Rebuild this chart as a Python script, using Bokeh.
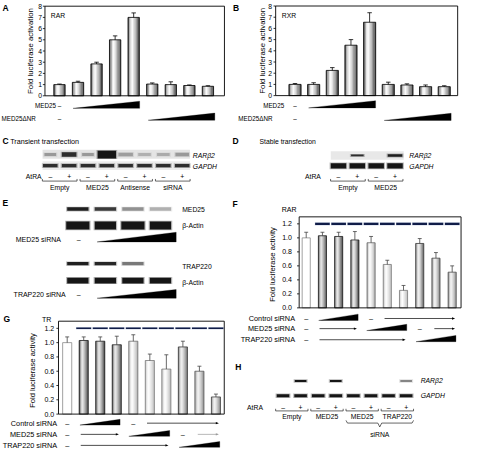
import numpy as np
from bokeh.plotting import figure
from bokeh.models import Range1d
from bokeh.embed import file_html
from bokeh.resources import INLINE
from bokeh.core.properties import value

FONT = "Liberation Sans"

# ---------------- data ----------------
A_values = [1.00, 1.20, 2.85, 5.00, 7.00, 1.05, 1.00, 0.92, 0.85]
A_errors = [0.05, 0.10, 0.15, 0.35, 0.40, 0.10, 0.25, 0.05, 0.05]
B_values = [1.00, 1.00, 2.25, 4.50, 6.55, 1.00, 0.95, 0.80, 0.80]
B_errors = [0.08, 0.15, 0.25, 0.50, 0.85, 0.20, 0.10, 0.15, 0.08]
AB_ticks = [0, 1, 2, 3, 4, 5, 6, 7, 8]
AB_ticklabels = ["0", "1", "2", "3", "4", "5", "6", "7", "8"]

F_values = [1.00, 1.03, 1.02, 0.97, 0.93, 0.62, 0.25, 0.92, 0.71, 0.51]
F_errors = [0.08, 0.05, 0.06, 0.12, 0.09, 0.06, 0.07, 0.07, 0.08, 0.09]
G_values = [1.00, 1.03, 1.02, 0.97, 1.02, 0.75, 0.63, 0.94, 0.60, 0.24]
G_errors = [0.08, 0.05, 0.06, 0.12, 0.09, 0.09, 0.20, 0.08, 0.07, 0.04]
FG_ticks = [0.0, 0.2, 0.4, 0.6, 0.8, 1.0, 1.2]
FG_ticklabels = ["0.0", "0.2", "0.4", "0.6", "0.8", "1.0", "1.2"]
FG_blot_level = 1.2
FG_blot_lanes = [1, 2, 3, 4, 5, 6, 7, 8, 9]

C_groups = ["Empty", "MED25", "Antisense", "siRNA"]
C_rar = [0.30, 0.85, 0.30, 1.00, 0.28, 0.20, 0.22, 0.30]
C_gapdh = [0.85, 0.85, 0.85, 0.85, 0.85, 0.85, 0.85, 0.85]
D_groups = ["Empty", "MED25"]
D_rar = [0.0, 0.85, 0.0, 0.95]
D_gapdh = [1.0, 1.0, 1.0, 1.0]
E_med25 = [0.95, 0.80, 0.40, 0.28]
E_actin1 = [1.0, 1.0, 1.0, 1.0]
E_trap220 = [0.95, 0.90, 0.50, 0.0]
E_actin2 = [1.0, 1.0, 1.0, 1.0]
H_groups = ["Empty", "MED25", "MED25", "TRAP220"]
H_rar = [0.0, 1.0, 0.0, 1.0, 0.0, 0.0, 0.0, 0.45]
H_gapdh = [1.0, 1.0, 1.0, 1.0, 1.0, 1.0, 1.0, 1.0]
AtRA_signs = ["–", "+"]

# ---------------- canvas ----------------
W, H = 478, 466
p = figure(width=462, height=450, x_range=Range1d(0, W), y_range=Range1d(H, 0),
           output_backend="svg", toolbar_location=None, min_border=0,
           x_axis_location=None, y_axis_location=None)
p.xgrid.visible = False
p.ygrid.visible = False
p.outline_line_color = None
p.background_fill_color = "white"
p.border_fill_color = "white"

panels = {
    "A": dict(x0=61.0, dx=19.2, y0=98.7, k=11.6),
    "B": dict(x0=304.7, dx=19.3, y0=98.5, k=11.6),
    "F": dict(x0=316.3, dx=16.78, y0=318.3, k=72.5),
    "G": dict(x0=69.0, dx=17.1, y0=428.3, k=74.0),
}
ex, ey = {}, {}
for n, g in panels.items():
    ex[n] = Range1d((0 - g["x0"]) / g["dx"], (W - g["x0"]) / g["dx"])
    ey[n] = Range1d((g["y0"] - H) / g["k"], g["y0"] / g["k"])
p.extra_x_ranges = ex
p.extra_y_ranges = ey


def txt(x, y, s, size="6.6px", align="left", baseline="middle", style="normal",
        color="black", angle=0.0, xr="default", yr="default"):
    p.text(x=[x], y=[y], text=[s], text_font=value(FONT), text_font_size=size,
           text_align=align, text_baseline=baseline, text_font_style=style,
           text_color=color, angle=angle, x_range_name=xr, y_range_name=yr)


def _rgb(h):
    h = h.lstrip("#")
    return [int(h[i:i + 2], 16) for i in (0, 2, 4)]


def _mix(c1, c2, t):
    a, b = _rgb(c1), _rgb(c2)
    return "#%02x%02x%02x" % tuple(int(round(a[k] + (b[k] - a[k]) * t)) for k in range(3))


def bar_chart(name, vals, errs, edges, centers, outlines, bw, frame_lr, ymax,
              ticks, ticklabels, tick_x, err_color, tsize, ns=9, hl=-0.3):
    xs, tops, cols = [], [], []
    for i, v in enumerate(vals):
        for j in range(ns):
            t = -1 + (2 * j + 1) / ns
            d = (t - hl) / (1 - hl) if t >= hl else (hl - t) / (1 + hl)
            cols.append(_mix(centers[i], edges[i], min(1.0, d) ** 1.3))
            xs.append(i - bw / 2 + (j + 0.5) * bw / ns)
            tops.append(v)
    p.vbar(x=xs, width=bw / ns * 1.1, top=tops, bottom=0, fill_color=cols,
           line_color=None, x_range_name=name, y_range_name=name)
    idx = list(range(len(vals)))
    p.vbar(x=idx, width=bw, top=vals, bottom=0, fill_color=None,
           line_color=outlines, line_width=0.8, x_range_name=name, y_range_name=name)
    hi = [v + e for v, e in zip(vals, errs)]
    p.segment(x0=idx, y0=vals, x1=idx, y1=hi, line_color=err_color, line_width=0.8,
              x_range_name=name, y_range_name=name)
    p.segment(x0=[i - 0.12 for i in idx], x1=[i + 0.12 for i in idx], y0=hi, y1=hi,
              line_color=err_color, line_width=0.8, x_range_name=name, y_range_name=name)
    L, R = frame_lr
    p.quad(left=[L], right=[R], bottom=[0], top=[ymax], fill_color=None,
           line_color="black", line_width=0.9, y_range_name=name)
    p.segment(x0=[L - 2.2] * len(ticks), x1=[L] * len(ticks), y0=ticks, y1=ticks,
              line_color="black", line_width=0.8, y_range_name=name)
    p.text(x=[tick_x] * len(ticks), y=ticks, text=ticklabels, text_font=value(FONT),
           text_font_size=tsize, text_align="right", text_baseline="middle",
           y_range_name=name)


def dash(name, i, y, size):
    txt(i, y, "–", size=size, align="center", xr=name)


def wedge(name, i0, i1, yb, h, color="black"):
    p.patch(x=[i0, i1, i1], y=[yb, yb, yb - h], fill_color=color, line_color=color,
            line_width=0.3, x_range_name=name)


def arrow(name, i0, i1, y, color="black"):
    L = 3.2 / panels[name]["dx"]
    p.segment(x0=[i0], x1=[i1 - L * 0.5], y0=[y], y1=[y], line_color=color,
              line_width=0.7, x_range_name=name)
    p.patch(x=[i1, i1 - L, i1 - L], y=[y, y - 1.2, y + 1.2], fill_color=color,
            line_color=None, x_range_name=name)


def bands(xs, y, w, h, intens, color="#161616"):
    n = len(xs)
    ws = w if isinstance(w, list) else [w] * n
    hs = h if isinstance(h, list) else [h] * n
    keep = [i for i in range(n) if intens[i] > 0]
    if not keep:
        return
    p.quad(left=[xs[i] - ws[i] / 2 - 1.2 for i in keep],
           right=[xs[i] + ws[i] / 2 + 1.2 for i in keep],
           top=[y - hs[i] / 2 - 0.7 for i in keep],
           bottom=[y + hs[i] / 2 + 0.7 for i in keep],
           fill_color=color, fill_alpha=[0.3 * intens[i] for i in keep], line_color=None)
    p.quad(left=[xs[i] - ws[i] / 2 for i in keep],
           right=[xs[i] + ws[i] / 2 for i in keep],
           top=[y - hs[i] / 2 for i in keep],
           bottom=[y + hs[i] / 2 for i in keep],
           fill_color=color, fill_alpha=[intens[i] for i in keep], line_color=None)


def atra_row(label_right, y, lanes, dx, groups, y_br, y_grp, size="6.8px"):
    txt(label_right, y, "AtRA", size=size, align="right")
    for i, x in enumerate(lanes):
        txt(x, y, AtRA_signs[i % 2], size=size, align="center")
    for g, name in enumerate(groups):
        xl = lanes[2 * g] - 0.42 * dx
        xr = lanes[2 * g + 1] + 0.42 * dx
        p.line(x=[xl, xl, xr, xr], y=[y_br - 2.2, y_br, y_br, y_br - 2.2],
               line_color="black", line_width=0.6)
        txt((lanes[2 * g] + lanes[2 * g + 1]) / 2, y_grp, name, size=size, align="center")


def lanes_of(x0, dx, n):
    return [x0 + dx * i for i in range(n)]


# ---------------- panel letters & titles ----------------
for (lx, ly, s) in [(2, 7.5, "A"), (240.5, 7.5, "B"), (2, 145.5, "C"), (240, 145.5, "D"),
                    (2, 209.5, "E"), (240, 210.5, "F"), (3, 329.5, "G"), (243, 379.5, "H")]:
    txt(lx, ly, s, size="8.5px", style="bold")

# ---------------- A & B ----------------
AB_edge = ["#3a3a3a"] * 9
AB_center = ["#ffffff"] * 9
AB_out = ["#000000"] * 9
bar_chart("A", A_values, A_errors, AB_edge, AB_center, AB_out, 0.61, (46.0, 231.7), 8,
          AB_ticks, AB_ticklabels, 43.0, "black", "6.8px")
bar_chart("B", B_values, B_errors, AB_edge, AB_center, AB_out, 0.65, (284.7, 473.0), 8,
          AB_ticks, AB_ticklabels, 281.0, "black", "6.8px")
txt(52, 16, "RAR", size="6.8px")
txt(291, 15.5, "RXR", size="6.8px")
txt(30.7, 4, "Fold luciferase activation", size="7.8px", align="center", angle=np.pi / 2, yr="A")
txt(270.7, 4, "Fold luciferase activation", size="7.8px", align="center", angle=np.pi / 2, yr="B")

AB_rows = ["MED25", "MED25ΔNR"]
AB_wedges = [(0.73, 4.32), (4.78, 8.37)]
for name, lab_x, row_y, wb in [("A", [57.5, 36.5], [108.3, 121.7], [111.7, 124.0]),
                               ("B", [293.5, 281.5], [109.0, 122.3], [111.2, 124.2])]:
    for r in range(2):
        txt(lab_x[r], row_y[r], AB_rows[r], size="6.3px", align="right")
        dash(name, 0, row_y[r], "6.3px")
        wedge(name, AB_wedges[r][0], AB_wedges[r][1], wb[r], 7.4)

# ---------------- F & G ----------------
F_edge = ["#ffffff", "#303030", "#303030", "#3a3a3a", "#a0a0a0", "#b0b0b0", "#b0b0b0",
          "#5a5a5a", "#747474", "#7c7c7c"]
F_center = ["#ffffff", "#e8e8e8", "#e8e8e8", "#e8e8e8", "#ffffff", "#ffffff", "#ffffff",
            "#f0f0f0", "#f4f4f4", "#f4f4f4"]
F_out = ["#8a8a8a", "#202020", "#202020", "#252525", "#6a6a6a", "#7a7a7a", "#7a7a7a",
         "#3a3a3a", "#4a4a4a", "#505050"]
G_edge = ["#ffffff", "#303030", "#303030", "#3a3a3a", "#a8a8a8", "#b4b4b4", "#b4b4b4",
          "#585858", "#909090", "#6a6a6a"]
G_center = F_center
G_out = ["#8a8a8a", "#202020", "#202020", "#252525", "#707070", "#7a7a7a", "#7a7a7a",
         "#383838", "#5a5a5a", "#454545"]
bar_chart("F", F_values, F_errors, F_edge, F_center, F_out, 0.5, (309.0, 476.5), 1.3,
          FG_ticks, FG_ticklabels, 301.5, "#444444", "7.0px")
bar_chart("G", G_values, G_errors, G_edge, G_center, G_out, 0.55, (60.0, 231.5), 1.3,
          FG_ticks, FG_ticklabels, 55.5, "#444444", "7.0px")
txt(291, 216.7, "RAR", size="7.0px")
txt(43, 330.5, "TR", size="7.0px")
txt(281.3, 0.62, "Fold luciferase activity", size="7.6px", align="center", angle=np.pi / 2, yr="F")
txt(33.3, 0.61, "Fold luciferase activity", size="7.6px", align="center", angle=np.pi / 2, yr="G")

for name, hh in [("F", 2.2), ("G", 1.6)]:
    k = panels[name]["k"]
    p.quad(left=[i - 0.47 for i in FG_blot_lanes], right=[i + 0.47 for i in FG_blot_lanes],
           bottom=[FG_blot_level - (hh + 1.0) / 2 / k] * 9, top=[FG_blot_level + (hh + 1.0) / 2 / k] * 9,
           fill_color="#3c5ca0", fill_alpha=0.25, line_color=None, x_range_name=name, y_range_name=name)
    p.quad(left=[i - 0.45 for i in FG_blot_lanes], right=[i + 0.45 for i in FG_blot_lanes],
           bottom=[FG_blot_level - hh / 2 / k] * 9, top=[FG_blot_level + hh / 2 / k] * 9,
           fill_color="#101c48", line_color=None, x_range_name=name, y_range_name=name)

FG_rows = ["Control siRNA", "MED25 siRNA", "TRAP220 siRNA"]
FG_dashes = [[0, 4], [0, 7], [0]]
FG_wedges = [[(0.77, 3.2)], [(3.73, 6.2)], [(6.77, 9.23)]]
FG_arrows = [[(4.83, 9.18)], [(0.82, 3.13), (7.9, 9.18)], [(0.82, 6.13)]]
for name, lab_x, row_y, wh, second_col in [("F", 304.7, [329.3, 339.8, 351.3], 6.5, "black"),
                                           ("G", 58.5, [437.7, 449.3, 460.7], 6.0, "#9a9a9a")]:
    for r in range(3):
        txt(lab_x, row_y[r], FG_rows[r], size="7.3px", align="right")
        for d in FG_dashes[r]:
            dash(name, d, row_y[r], "7.3px")
        for (a, b) in FG_wedges[r]:
            wedge(name, a, b, row_y[r] + 2.0, wh)
        for ai, (a, b) in enumerate(FG_arrows[r]):
            arrow(name, a, b, row_y[r], color=(second_col if (r == 1 and ai == 1) else "black"))

# ---------------- C (transient transfection gel) ----------------
txt(10, 146, "Transient transfection", size="7.2px")
C_lanes = lanes_of(51.5, 19.5, 8)
p.quad(left=[C_lanes[0] - 8], right=[C_lanes[-1] + 8], top=[154.5], bottom=[164.0],
       fill_color="#e4e4e4", line_color=None)
p.quad(left=[C_lanes[0] - 8], right=[C_lanes[-1] + 8], top=[166.5], bottom=[175.5],
       fill_color="#ececec", line_color=None)
bands(C_lanes, 159.5, [12, 15, 12, 19, 15, 13, 13, 14], [3.0, 4.5, 3.0, 8.0, 3.5, 3.0, 3.0, 3.5], C_rar)
bands(C_lanes, 171.0, 15, 3.6, C_gapdh)
txt(199, 160, "RARβ2", size="6.8px", style="italic")
txt(199, 171.5, "GAPDH", size="6.8px", style="italic")
atra_row(42.5, 182.7, C_lanes, 19.5, C_groups, 187.0, 193.5)

# ---------------- D (stable transfection gel) ----------------
txt(268, 146, "Stable transfection", size="6.8px")
D_lanes = lanes_of(349.7, 19.5, 4)
p.quad(left=[D_lanes[0] - 8], right=[D_lanes[-1] + 9], top=[156.0], bottom=[165.0],
       fill_color="#e8e8e8", line_color=None)
bands(D_lanes, 160.5, [13, 13, 13, 15], [1.8, 1.8, 1.8, 2.8], D_rar)
bands(D_lanes, 171.2, 16, 5.5, D_gapdh)
txt(423, 160.5, "RARβ2", size="6.8px", style="italic")
txt(423, 171.5, "GAPDH", size="6.8px", style="italic")
atra_row(331.5, 182.7, D_lanes, 19.5, D_groups, 187.0, 193.3)

# ---------------- E (western blots) ----------------
E_lanes = lanes_of(80.0, 28.5, 4)
bands(E_lanes, 216.0, 22, 3.6, E_med25)
bands(E_lanes, 233.0, [24, 22, 24, 22], 8.5, E_actin1)
txt(188, 216, "MED25", size="6.8px")
txt(188, 233.3, "β-Actin", size="6.8px")
bands(E_lanes, 272.5, 22, 3.2, E_trap220)
bands(E_lanes, 290.0, 22, 6.0, E_actin2)
txt(188, 275, "TRAP220", size="6.8px")
txt(188, 291.7, "β-Actin", size="6.8px")
for lab, lab_x, y, yb, h in [("MED25 siRNA", 62.5, 247.3, 250.0, 10.0),
                             ("TRAP220 siRNA", 67.5, 304.3, 308.3, 9.0)]:
    txt(lab_x, y, lab, size="7.0px", align="right")
    txt(E_lanes[0] + 1, y, "–", size="7.0px", align="center")
    x0w = E_lanes[0] + 0.7 * 28.5
    x1w = E_lanes[0] + 3.57 * 28.5
    p.patch(x=[x0w, x1w, x1w], y=[yb, yb, yb - h], fill_color="black", line_color="black", line_width=0.3)

# ---------------- H (gel) ----------------
H_lanes = lanes_of(292.3, 18.2, 8)
bands(H_lanes, 394.0, 12, 2.2, H_rar)
bands(H_lanes, 409.3, 13, 3.2, H_gapdh)
txt(434.7, 394, "RARβ2", size="6.8px", style="italic")
txt(434.7, 409.3, "GAPDH", size="6.8px", style="italic")
atra_row(271.5, 421.0, H_lanes, 18.2, H_groups, 425.0, 431.3)
bx0, bx1 = H_lanes[4] - 0.42 * 18.2, H_lanes[7] + 0.42 * 18.2
bm = (bx0 + bx1) / 2
p.line(x=[bx0, bx0 + 1.5, bm - 2.0, bm, bm + 2.0, bx1 - 1.5, bx1],
       y=[434.8, 437.6, 437.6, 441.6, 437.6, 437.6, 434.8], line_color="black", line_width=0.6)
txt(bm, 449.3, "siRNA", size="6.8px", align="center")

open("out.html", "w").write(file_html(p, INLINE))
